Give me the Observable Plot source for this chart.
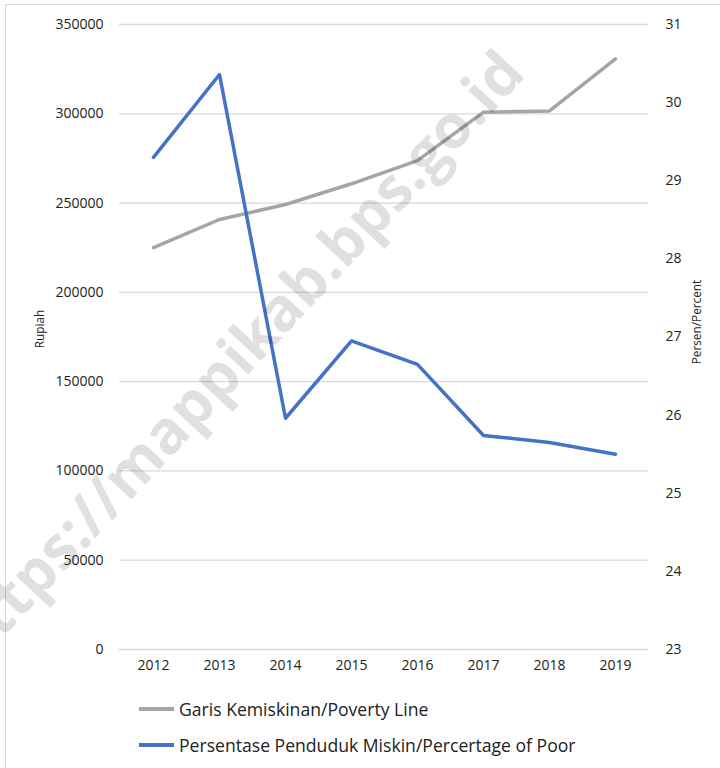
<!DOCTYPE html>
<html>
<head>
<meta charset="utf-8">
<script src="https://cdn.jsdelivr.net/npm/d3@7"></script>
<script src="https://cdn.jsdelivr.net/npm/@observablehq/plot@0.6"></script>
<style>
  html, body { margin: 0; padding: 0; background: #fff; }
  #wrap { position: relative; width: 720px; height: 768px; overflow: hidden; font-family: "Open Sans", sans-serif; }
  #border { position: absolute; left: 5px; top: 4px; width: 730px; height: 780px; border: 1.5px solid #d9d9d9; box-sizing: border-box; }
  #chart { position: absolute; left: 0; top: 0; }
  #legend { position: absolute; left: 139px; top: 691px; color: #222; font-size: 17.6px; }
  .item { display: flex; align-items: center; height: 36px; }
  .sw { width: 35px; height: 3.5px; margin-right: 5px; }
  #wm { position: absolute; left: 234px; top: 356px; transform: translate(-50%, -50%) rotate(-47deg);
        white-space: nowrap; font: bold 60px "Open Sans", sans-serif; color: rgba(0,0,0,0.12); pointer-events: none; }
</style>
</head>
<body>
<div id="wrap">
  <div id="border"></div>
  <div id="chart"></div>
  <div id="legend"></div>
  <div id="wm">https://mappikab.bps.go.id</div>
</div>
<script>
const years = [2012, 2013, 2014, 2015, 2016, 2017, 2018, 2019];
const povertyLine = [225000, 240800, 249200, 260800, 273800, 300900, 301600, 330800];
const percentPoor = [29.30, 30.36, 25.96, 26.95, 26.65, 25.74, 25.65, 25.50];
const leftTicks = [0, 50000, 100000, 150000, 200000, 250000, 300000, 350000];
const rightTicks = [23, 24, 25, 26, 27, 28, 29, 30, 31];
const leftTitle = "Rupiah";
const rightTitle = "Persen/Percent";
const seriesNames = ["Garis Kemiskinan/Poverty Line", "Persentase Penduduk Miskin/Percertage of Poor"];
const seriesColors = ["#A5A5A5", "#4472C4"];

const pMin = 23, pMax = 31, rMax = 350000;
const toLeft = p => (p - pMin) / (pMax - pMin) * rMax;
const toRight = v => Math.round(v / rMax * (pMax - pMin) + pMin);

const gray = years.map((y, i) => ({year: y, value: povertyLine[i]}));
const blue = years.map((y, i) => ({year: y, value: toLeft(percentPoor[i])}));

const chart = Plot.plot({
  width: 720,
  height: 690,
  marginLeft: 119,
  marginRight: 72,
  marginTop: 24,
  marginBottom: 41,
  style: {fontFamily: "Open Sans, sans-serif", fontSize: "14px", color: "#222", background: "transparent"},
  x: {type: "point", domain: years, padding: 0.5},
  y: {domain: [0, rMax]},
  marks: [
    Plot.gridY(leftTicks, {stroke: "#d9d9d9", strokeOpacity: 1, strokeWidth: 1.3}),
    Plot.axisX(years, {tickSize: 0, tickPadding: 11, label: null, tickFormat: d => String(d), fontSize: 14}),
    Plot.axisY(leftTicks, {anchor: "left", tickSize: 0, tickPadding: 16, tickFormat: d => String(d), label: null, fontSize: 14}),
    Plot.axisY(rightTicks.map(toLeft), {anchor: "right", tickSize: 0, tickPadding: 17, tickFormat: toRight, label: null, fontSize: 14}),
    Plot.text([leftTitle], {frameAnchor: "left", textAnchor: "middle", rotate: -90, dx: -79, dy: -8, fontSize: 11.8, fill: "#222"}),
    Plot.text([rightTitle], {frameAnchor: "right", textAnchor: "middle", rotate: -90, dx: 49, dy: -15, fontSize: 11.8, fill: "#222"}),
    Plot.line(gray, {x: "year", y: "value", stroke: seriesColors[0], strokeWidth: 3.5}),
    Plot.line(blue, {x: "year", y: "value", stroke: seriesColors[1], strokeWidth: 3.5})
  ]
});
document.getElementById("chart").appendChild(chart);

const legend = document.getElementById("legend");
seriesNames.forEach((name, i) => {
  const item = document.createElement("div");
  item.className = "item";
  const sw = document.createElement("div");
  sw.className = "sw";
  sw.style.background = seriesColors[i];
  const t = document.createElement("span");
  t.textContent = name;
  item.appendChild(sw);
  item.appendChild(t);
  legend.appendChild(item);
});
</script>
</body>
</html>
